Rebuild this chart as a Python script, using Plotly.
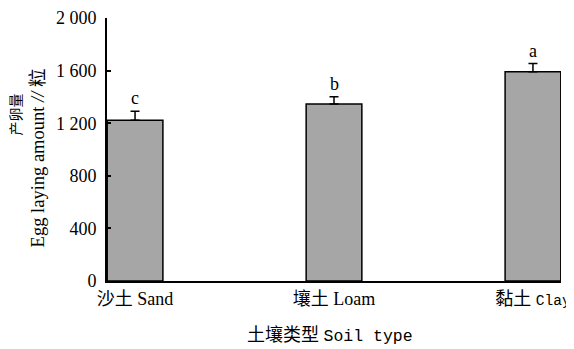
import plotly.graph_objects as go

categories = ["沙土 Sand", "壤土 Loam", "黏土 <span style=\"font-family:'Liberation Mono';font-size:14.5px\">Clay</span>"]
values = [1222, 1346, 1592]
errors = [68, 56, 62]
letters = ["c", "b", "a"]
ytick_vals = [0, 400, 800, 1200, 1600, 2000]
ytick_text = ["0", "400", "800", "1 200", "1 600", "2 000"]
x_title = "土壤类型 <span style=\"font-family:'Liberation Mono';font-size:16.5px\">Soil type</span>"
y_title_1 = "产卵量"
y_title_2 = "Egg laying amount <i>//</i> 粒"

FONT = "Liberation Serif, Noto Sans CJK SC, serif"

fig = go.Figure()
fig.add_trace(go.Bar(
    x=list(range(len(categories))),
    y=values,
    width=0.28,
    marker=dict(color="#a6a6a6", line=dict(color="black", width=1.5)),
    error_y=dict(type="data", symmetric=False, array=errors,
                 arrayminus=[0] * len(errors), color="black",
                 thickness=1.5, width=4.5),
    showlegend=False,
))

for i, (v, e, l) in enumerate(zip(values, errors, letters)):
    fig.add_annotation(x=i, y=v + e, text=l, showarrow=False,
                       yanchor="bottom", yshift=1,
                       font=dict(family=FONT, size=18, color="#000000"))

fig.add_annotation(xref="paper", yref="paper", x=-0.2, y=0.634,
                   text=y_title_1, textangle=-90, showarrow=False,
                   xanchor="center", yanchor="middle",
                   font=dict(family=FONT, size=14, color="#000000"))
fig.add_annotation(xref="paper", yref="paper", x=-0.152, y=0.47,
                   text=y_title_2, textangle=-90, showarrow=False,
                   xanchor="center", yanchor="middle",
                   font=dict(family=FONT, size=18.5, color="#000000"))
fig.add_annotation(xref="paper", yref="paper", x=0.491, y=-0.206,
                   text=x_title, showarrow=False,
                   xanchor="center", yanchor="middle",
                   font=dict(family=FONT, size=18, color="#000000"))

fig.update_layout(
    width=566, height=341,
    margin=dict(l=99, r=13, t=10, b=68),
    plot_bgcolor="white", paper_bgcolor="white",
    font=dict(family=FONT, size=18, color="black"),
    xaxis=dict(
        range=[-0.141, 2.141],
        tickvals=list(range(len(categories))), ticktext=categories,
        showline=True, linecolor="black", linewidth=2,
        ticks="", showgrid=False, zeroline=False, automargin=False,
        ticklabeloverflow="allow",
        tickfont=dict(family=FONT, size=18),
    ),
    yaxis=dict(
        range=[0, 2000],
        tickvals=ytick_vals, ticktext=ytick_text,
        showline=True, linecolor="black", linewidth=2,
        ticks="inside", ticklen=4, tickwidth=1.5, tickcolor="black",
        showgrid=False, zeroline=False, automargin=False,
        ticklabelstandoff=5, ticklabeloverflow="allow",
        tickfont=dict(family=FONT, size=18),
    ),
)

fig.write_html("out.html")
